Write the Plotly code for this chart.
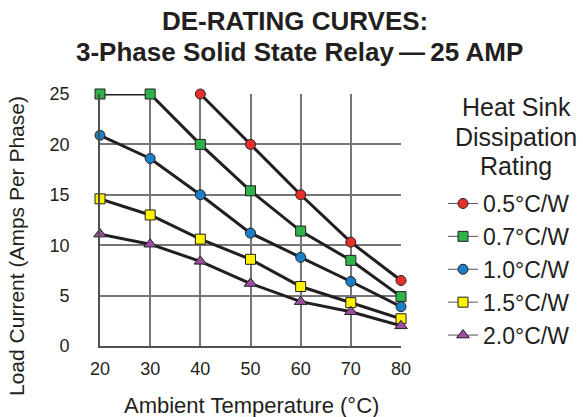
import plotly.graph_objects as go

temps = [20, 30, 40, 50, 60, 70, 80]
series_names = ["0.5°C/W", "0.7°C/W", "1.0°C/W", "1.5°C/W", "2.0°C/W"]
r05 = [None, None, 25, 20, 15, 10.3, 6.5]
r07 = [25, 25, 20, 15.4, 11.4, 8.5, 4.9]
r10 = [20.9, 18.6, 15, 11.2, 8.8, 6.4, 3.9]
r15 = [14.6, 13.0, 10.6, 8.6, 5.9, 4.3, 2.7]
r20 = [11.1, 10.1, 8.4, 6.2, 4.4, 3.4, 2.0]
values = [r05, r07, r10, r15, r20]
colors = ["#e8302a", "#2db34a", "#1a7fc4", "#fff200", "#9b4f9e"]
symbols = ["circle", "square", "circle", "square", "triangle-up"]
sizes = [10, 10, 10, 10, 11]
y_ticks = [0, 5, 10, 15, 20, 25]
legend_title_lines = ["Heat Sink", "Dissipation", "Rating"]

fig = go.Figure()
for name, vals, col, sym, sz in zip(series_names, values, colors, symbols, sizes):
    xs = [t for t, v in zip(temps, vals) if v is not None]
    ys = [v for v in vals if v is not None]
    fig.add_trace(go.Scatter(
        x=xs, y=ys, name=name, mode="lines+markers", showlegend=False,
        line=dict(color="#231f20", width=3),
        marker=dict(color=col, symbol=sym, size=sz,
                    line=dict(color="#231f20", width=1)),
        cliponaxis=False,
    ))
# legend-only entries with thin gray line, as in the reference key
for name, col, sym, sz in zip(series_names, colors, symbols, sizes):
    fig.add_trace(go.Scatter(
        x=[None], y=[None], name=name, mode="lines+markers",
        line=dict(color="#555555", width=1),
        marker=dict(color=col, symbol=sym, size=sz,
                    line=dict(color="#231f20", width=1)),
    ))

font = "Liberation Sans, Arial, Helvetica, sans-serif"
L, R, T, B = 100, 401, 94, 346
W, H = 583, 417


def px_x(px):
    return (px - L) / (R - L)


def px_y(py):
    return (B - py) / (B - T)


annotations = [
    dict(text="<b>DE-RATING CURVES:</b>", x=px_x(295), y=px_y(21), font=dict(size=26)),
    dict(text="<b>3-Phase Solid State Relay\u2009—\u200925 AMP</b>", x=px_x(299), y=px_y(52),
         font=dict(size=26)),
    dict(text="Ambient Temperature (°C)", x=px_x(251), y=px_y(405), font=dict(size=22)),
    dict(text="Load Current (Amps Per Phase)", x=px_x(16), y=px_y(246), textangle=-90,
         font=dict(size=21)),
]
for i, line in enumerate(legend_title_lines):
    annotations.append(dict(text=line, x=px_x(516), y=px_y(107 + 29.5 * i),
                            font=dict(size=25)))
for a in annotations:
    a.update(xref="paper", yref="paper", showarrow=False,
             xanchor="center", yanchor="middle")

fig.update_layout(
    width=W, height=H,
    margin=dict(l=L, r=W - R, t=T, b=H - B, autoexpand=False),
    paper_bgcolor="white", plot_bgcolor="white",
    font=dict(family=font, color="#231f20"),
    showlegend=True,
    legend=dict(
        x=px_x(443), xanchor="left", y=px_y(182), yanchor="top",
        font=dict(size=23, color="#231f20"),
        bgcolor="rgba(0,0,0,0)", maxheight=400,
    ),
    xaxis=dict(
        range=[20, 80], tickvals=temps, ticks="", showgrid=True,
        gridcolor="#767676", gridwidth=1.6, showline=True,
        linecolor="#505050", linewidth=1.6, zeroline=False,
        tickfont=dict(size=18, color="#231f20"), ticklabelstandoff=6,
    ),
    yaxis=dict(
        range=[0, 25], tickvals=y_ticks, ticks="",
        showgrid=True, gridcolor="#767676", gridwidth=1.6, showline=True,
        linecolor="#505050", linewidth=1.6, zeroline=False,
        tickfont=dict(size=18, color="#231f20"), ticklabelstandoff=25,
    ),
    annotations=annotations,
)

fig.write_html("out.html", config={"displayModeBar": False},
               post_script="document.body.style.margin='0';")
